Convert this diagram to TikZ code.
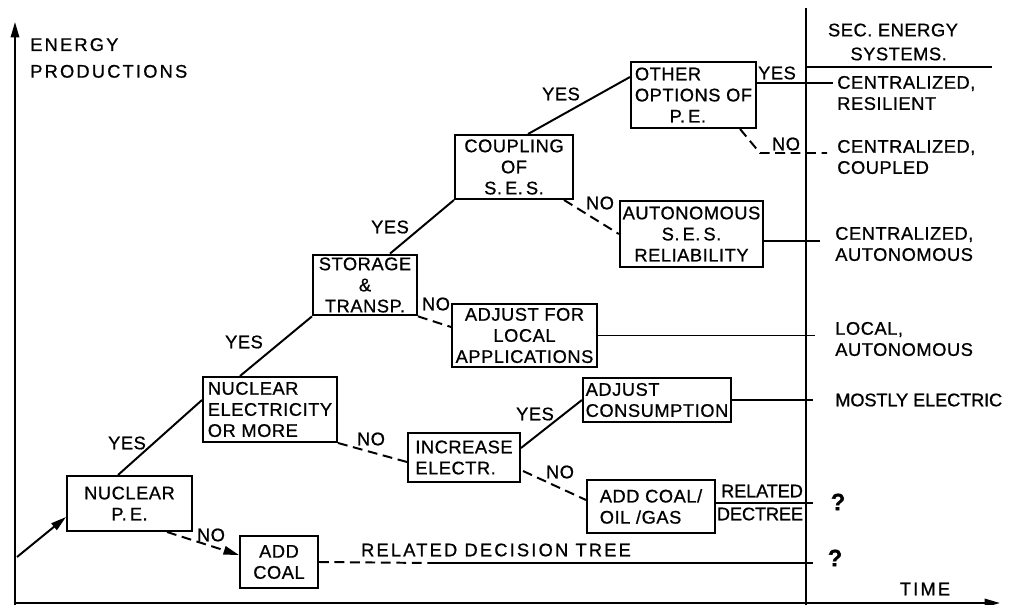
\documentclass[tikz,border=0pt]{standalone}
\usepackage{fontspec}
\setmainfont{Liberation Sans}[LetterSpace=3, FakeBold=0.8]
\newfontfamily\widefont{Liberation Sans}[LetterSpace=12, FakeBold=0.8]
\newfontfamily\tightfont{Liberation Sans}[LetterSpace=-1, FakeBold=0.8]
\usetikzlibrary{calc,arrows.meta}
\tikzset{
	lettering/.style={font=\fontsize{13}{15}\selectfont},
	spaced/.style={font=\fontsize{13}{15}\selectfont\widefont},
	tight/.style={font=\fontsize{13}{15}\selectfont\tightfont},
	decision/.style={draw, line width=1.4pt, lettering, inner sep=2pt, align=center},
	branch/.style={line width=1.4pt},
	nobranch/.style={line width=1.4pt, dash pattern=on 7pt off 4pt},
	tip/.style={-{Triangle[length=11pt,width=6pt]}},
	answer/.style={lettering, inner sep=0pt},
	outcome/.style={lettering, anchor=west, align=left, inner sep=0pt},
	query/.style={font=\fontsize{17}{17}\selectfont\bfseries, inner sep=0pt},
}
\begin{document}
\begin{tikzpicture}[x=0.025cm, y=-0.025cm]
	\useasboundingbox (0,0) rectangle (1014,605);
	% axes and column of secondary systems
	\draw[branch, tip] (15,605) -- (15,22);
	\draw[branch, tip] (15,603) -- (1000,603);
	\draw[branch] (806,8) -- (806,605);
	\draw[branch] (806,67) -- (992,67);
	\node[spaced, anchor=west, align=left, inner sep=0pt] (yname) at (30,58) {ENERGY\\[4pt]PRODUCTIONS};
	\node[lettering, align=center, inner sep=0pt] (colname) at (893,42) {SEC. ENERGY\\[2pt]\ \ SYSTEMS.};
	\node[spaced, inner sep=0pt] (xname) at (925,589) {TIME};
	
	% decisions
	\node[decision, minimum width=3.125cm, minimum height=1.375cm] (nucpe) at (129.5,503.5) {NUCLEAR\\P.\,E.};
	\node[decision, minimum width=1.95cm, minimum height=1.3cm] (addcoal) at (279,562) {ADD\\COAL};
	\node[decision, minimum width=3.35cm, minimum height=1.625cm, align=left] (nucel) at (270,409.5) {NUCLEAR\\ELECTRICITY\\OR MORE};
	\node[decision, minimum width=2.6cm, minimum height=1.5cm] (stor) at (365,285) {STORAGE\\\&\\TRANSP.};
	\node[decision, minimum width=3.625cm, minimum height=1.575cm] (adjloc) at (524.5,335.5) {ADJUST FOR\\LOCAL\\APPLICATIONS};
	\node[decision, minimum width=2.95cm, minimum height=1.6cm] (coup) at (514,167) {COUPLING\\OF\\S.\,E.\,S.};
	\node[decision, minimum width=3.125cm, minimum height=1.65cm, align=left] (other) at (693.5,95) {OTHER\\OPTIONS OF\\\hspace*{1.9em}P.\,E.};
	\node[decision, minimum width=3.425cm, minimum height=1.65cm] (auton) at (691.5,234) {AUTONOMOUS\\S.\,E.\,S.\\RELIABILITY};
	\node[decision, minimum width=3.5cm, minimum height=1.1cm, align=left] (adjcons) at (657,400) {ADJUST\\CONSUMPTION};
	\node[decision, minimum width=2.8cm, minimum height=1.225cm, align=left] (incr) at (464,457.5) {INCREASE\\ELECTR.};
	\node[decision, minimum width=3.2cm, minimum height=1.325cm, align=left] (addoil) at (651,506.5) {ADD COAL/\\OIL /GAS};
	
	% free ends
	\coordinate (start) at (17,557);
	\coordinate (resil) at (833,83);
	\coordinate (otherbend) at (760,153);
	\coordinate (coupled) at (827,153);
	\coordinate (autonend) at (820,241);
	\coordinate (localend) at (815,335.5);
	\coordinate (electend) at (813,400);
	\coordinate (relend) at (813,503);
	\coordinate (treemid) at (430,563);
	\coordinate (treeend) at (813,563);
	
	% yes branches
	\draw[branch, tip] (start) -- ($(nucpe.west)+(0,13.5)$);
	\draw[branch] ($(nucpe.north)+(-11.5,0)$) -- ($(nucel.west)+(0,-9.5)$);
	\node[answer] at (127,443) {YES};
	\draw[branch] ($(nucel.north)+(-30,0)$) -- (stor.south west);
	\node[answer] at (244,342) {YES};
	\draw[branch] ($(stor.north)+(25,0)$) -- (coup.south west);
	\node[answer] at (390,227) {YES};
	\draw[branch] ($(coup.north)+(14,0)$) -- ($(other.west)+(0,-18)$);
	\node[answer] at (561,94) {YES};
	\draw[branch] ($(other.east)+(0,-12)$) -- (resil);
	\node[answer] at (777,73) {YES};
	\draw[branch] ($(incr.east)+(0,-9.5)$) -- (adjcons.west);
	\node[answer] at (535,414) {YES};
	
	% no branches
	\draw[nobranch, tip] ($(nucpe.south)+(37.5,0)$) -- ($(addcoal.west)+(0,-7)$);
	\node[answer] at (211,535) {NO};
	\draw[nobranch] (nucel.south east) -- ($(incr.west)+(0,4.5)$);
	\node[answer] at (371,439) {NO};
	\draw[nobranch] (stor.south east) -- ($(adjloc.west)+(0,-8.5)$);
	\node[answer] at (436,304) {NO};
	\draw[nobranch] ($(coup.south east)+(-10,0)$) -- (auton.west);
	\node[answer] at (600,203) {NO};
	\draw[nobranch] ($(other.south)+(46.5,0)$) -- (otherbend) -- (coupled);
	\node[answer] at (786,144) {NO};
	\draw[nobranch] ($(incr.south east)+(2,-12)$) -- ($(addoil.west)+(0,-6.5)$);
	\node[answer] at (560,472) {NO};
	
	% to the secondary systems
	\draw[branch] ($(auton.east)+(0,7)$) -- (autonend);
	\draw[branch] (adjloc.east) -- (localend);
	\draw[branch] (adjcons.east) -- (electend);
	\draw[branch] ($(addoil.east)+(0,-3.5)$) -- (relend);
	\node[tight, inner sep=0pt] at (762,491) {RELATED};
	\node[tight, inner sep=0pt] at (760,514) {DECTREE};
	\draw[nobranch] (addcoal.east) -- (treemid);
	\draw[branch] (treemid) -- (treeend);
	\node[spaced, inner sep=0pt] at (496,550) {RELATED DECISION TREE};
	
	\node[outcome] at (837,93) {CENTRALIZED,\\RESILIENT};
	\node[outcome] at (837,157) {CENTRALIZED,\\COUPLED};
	\node[outcome] at (835,244) {CENTRALIZED,\\AUTONOMOUS};
	\node[outcome] at (835,339) {LOCAL,\\AUTONOMOUS};
	\node[outcome, tight] at (835,400) {MOSTLY ELECTRIC};
	\node[query] at (838,502) {?};
	\node[query] at (835,558) {?};
\end{tikzpicture}
\end{document}
